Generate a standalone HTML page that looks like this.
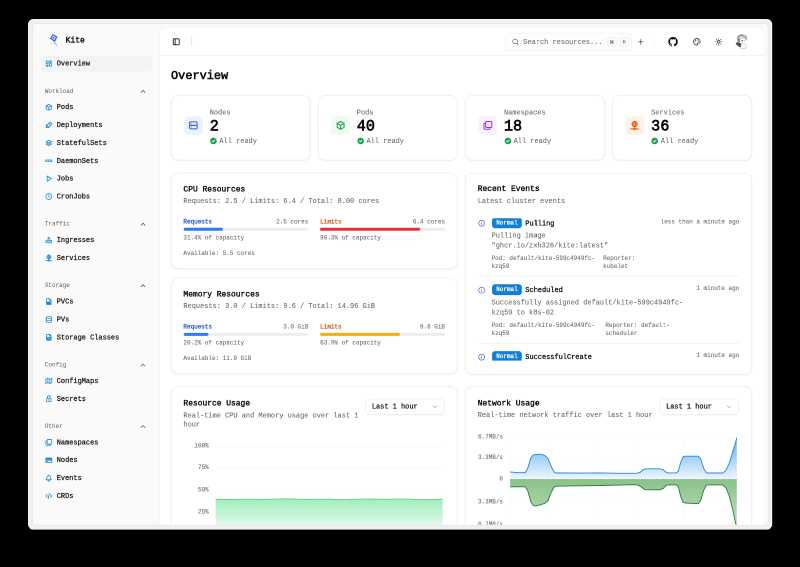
<!DOCTYPE html>
<html lang="en">
<head>
<meta charset="utf-8">
<title>Kite - Overview</title>
<style>
*{box-sizing:border-box;margin:0;padding:0}
html,body{width:800px;height:567px;overflow:hidden;background:#000}
body{font-family:"Liberation Mono",monospace;color:#0a0a0a;position:relative}
#stage{position:absolute;left:28px;top:19px;width:1490px;height:1024px;transform:scale(.5);transform-origin:0 0;will-change:transform}
#win{position:absolute;left:0;top:0;transform:scale(.9916);transform-origin:0 0;width:1500.6px;height:1029.800px;background:#f1f1f1;border-radius:11px;overflow:hidden}
#app{position:absolute;left:10px;top:9.5px;width:1481.5px;height:1010.300px;background:#fafafa;border-radius:5px;overflow:hidden;box-shadow:0 0 0 2px rgba(0,0,0,.045);font-size:14px;line-height:20px}
svg{display:block}
.ic{fill:none;stroke:currentColor;stroke-width:2;stroke-linecap:round;stroke-linejoin:round}
.med{-webkit-text-stroke:.5px currentColor}
.mut{color:#6a6a6a;-webkit-text-stroke:.15px currentColor}

/* sidebar */
#side{position:absolute;left:0;top:0;width:256px;height:100%;padding:8px}
.sh{padding:8px}
.brand{height:32px;display:flex;align-items:center;padding:6px;gap:8px}
.brand b{font-size:16px;font-weight:400;-webkit-text-stroke:.8px currentColor;letter-spacing:0;margin-left:5.500px;position:relative;top:1px}
.grp{padding:8px;margin-bottom:8px}
.glabel{height:32px;display:flex;align-items:center;justify-content:space-between;padding:0 8px;font-size:12px;color:#5e5e5e}
.glabel svg{width:16px;height:16px;color:#404040;margin-right:2px}
.mi{height:32px;display:flex;align-items:center;gap:8px;padding:0 8px;border-radius:6px;margin-bottom:4px;color:#171717}
.mi:last-child{margin-bottom:0}
.mi svg{width:16px;height:16px;color:#1a86cf;flex:none;stroke-width:2.300}
.mi.act{background:#f3f3f3}
.mi span,.glabel span{position:relative;top:.700px}

/* main */
#main{position:absolute;left:256px;top:8px;width:1217.5px;height:1100px;background:#fff;border-radius:10px;box-shadow:0 0 2px rgba(0,0,0,.06)}
#hdr{position:absolute;left:0;top:0;width:100%;height:56px;border-bottom:1px solid #e7e7e7}
#hdr .abs{position:absolute}
.card{position:absolute;background:#fff;border:1px solid #e8e8e8;border-radius:14px;box-shadow:0 1px 3px rgba(0,0,0,.06)}
.t16{font-size:16px;line-height:16px;font-weight:400;-webkit-text-stroke:.7px currentColor}
.xs{font-size:12px;line-height:16px}
.abs{position:absolute}
</style>
</head>
<body>
<div id="stage"><div id="win"><div id="app">

<!-- SIDEBAR -->
<div id="side">
  <div class="sh">
    <div class="brand">
      <svg width="22" height="26" viewBox="0 0 22 26" style="margin-left:8.500px"><g transform="rotate(-12 11 10)"><path d="M11 1 L19 8.500 L11.500 18 L3 9 Z" fill="#3f63dd"/><path d="M11 4.200 L15.500 8.700 L11.300 13.800 L6.500 9 Z" fill="#e6edff"/><circle cx="11" cy="9" r="2" fill="#3f63dd"/></g><path d="M13 17.500 C11.500 20 15 21 17.500 24.500" stroke="#6c86e6" stroke-width="1.300" fill="none"/><path d="M11 19 L6 21.500" stroke="#9fb0ef" stroke-width="1" fill="none"/></svg>
      <b>Kite</b>
    </div>
  </div>
  <div class="grp" id="g0">
    <div class="mi act"><svg class="ic" viewBox="0 0 24 24"><path d="M5 4h4a1 1 0 0 1 1 1v6a1 1 0 0 1 -1 1h-4a1 1 0 0 1 -1 -1v-6a1 1 0 0 1 1 -1"/><path d="M5 16h4a1 1 0 0 1 1 1v2a1 1 0 0 1 -1 1h-4a1 1 0 0 1 -1 -1v-2a1 1 0 0 1 1 -1"/><path d="M15 12h4a1 1 0 0 1 1 1v6a1 1 0 0 1 -1 1h-4a1 1 0 0 1 -1 -1v-6a1 1 0 0 1 1 -1"/><path d="M15 4h4a1 1 0 0 1 1 1v2a1 1 0 0 1 -1 1h-4a1 1 0 0 1 -1 -1v-2a1 1 0 0 1 1 -1"/></svg><span class="med">Overview</span></div>
  </div>
  <div class="grp">
    <div class="glabel"><span>Workload</span><svg class="ic" viewBox="0 0 24 24"><path d="M6 15l6 -6l6 6"/></svg></div>
    <div class="mi"><svg class="ic" viewBox="0 0 24 24"><path d="M12 3l8 4.5l0 9l-8 4.5l-8 -4.5l0 -9l8 -4.5"/><path d="M12 12l8 -4.5"/><path d="M12 12l0 9"/><path d="M12 12l-8 -4.5"/></svg><span class="med">Pods</span></div>
    <div class="mi"><svg class="ic" viewBox="0 0 24 24"><path d="M4 13a8 8 0 0 1 7 7a6 6 0 0 0 3 -5a9 9 0 0 0 6 -8a3 3 0 0 0 -3 -3a9 9 0 0 0 -8 6a6 6 0 0 0 -5 3"/><path d="M7 14a6 6 0 0 0 -3 6a6 6 0 0 0 6 -3"/><path d="M15 9m-1 0a1 1 0 1 0 2 0a1 1 0 1 0 -2 0"/></svg><span class="med">Deployments</span></div>
    <div class="mi"><svg class="ic" viewBox="0 0 24 24"><path d="M12 4l-8 4l8 4l8 -4l-8 -4"/><path d="M4 12l8 4l8 -4"/><path d="M4 16l8 4l8 -4"/></svg><span class="med">StatefulSets</span></div>
    <div class="mi"><svg class="ic" viewBox="0 0 24 24"><path d="M2.500 9.200h19v5.600h-19z" fill="currentColor" fill-opacity=".55" stroke-width="1.600"/><path d="M8.800 9.500v5M15.200 9.500v5" stroke="#fafafa" stroke-width="1.300"/></svg><span class="med">DaemonSets</span></div>
    <div class="mi"><svg class="ic" viewBox="0 0 24 24"><path d="M7 4v16l13 -8z"/></svg><span class="med">Jobs</span></div>
    <div class="mi"><svg class="ic" viewBox="0 0 24 24"><path d="M3 12a9 9 0 1 0 18 0a9 9 0 0 0 -18 0"/><path d="M12 12l3 2"/><path d="M12 7v5"/></svg><span class="med">CronJobs</span></div>
  </div>
  <div class="grp">
    <div class="glabel"><span>Traffic</span><svg class="ic" viewBox="0 0 24 24"><path d="M6 15l6 -6l6 6"/></svg></div>
    <div class="mi"><svg class="ic" viewBox="0 0 24 24"><path d="M3.500 13.500h17v6.500h-17z"/><path d="M7 16.800h10" stroke-width="1.400"/><path d="M12 10.500v-7" stroke-width="1.800"/><path d="M9 6l3 -3l3 3" stroke-width="1.800"/><path d="M6.500 8.500h11" stroke-width="1.600"/></svg><span class="med">Ingresses</span></div>
    <div class="mi"><svg class="ic" viewBox="0 0 24 24"><path d="M6 9a6 6 0 1 0 12 0a6 6 0 0 0 -12 0"/><path d="M12 3c1.333 .333 2 2.333 2 6s-.667 5.667 -2 6"/><path d="M12 3c-1.333 .333 -2 2.333 -2 6s.667 5.667 2 6"/><path d="M6 9h12"/><path d="M3 20h7"/><path d="M14 20h7"/><path d="M10 20a2 2 0 1 0 4 0a2 2 0 0 0 -4 0"/><path d="M12 15v3"/></svg><span class="med">Services</span></div>
  </div>
  <div class="grp">
    <div class="glabel"><span>Storage</span><svg class="ic" viewBox="0 0 24 24"><path d="M6 15l6 -6l6 6"/></svg></div>
    <div class="mi"><svg class="ic" viewBox="0 0 24 24"><path d="M14 3v4a1 1 0 0 0 1 1h4"/><path d="M17 21h-10a2 2 0 0 1 -2 -2v-14a2 2 0 0 1 2 -2h7l5 5v11a2 2 0 0 1 -2 2z"/><path d="M6.500 12.500h11v7h-11z" fill="currentColor" stroke-width="1"/></svg><span class="med">PVCs</span></div>
    <div class="mi"><svg class="ic" viewBox="0 0 24 24"><path d="M12 6m-8 0a8 3 0 1 0 16 0a8 3 0 1 0 -16 0"/><path d="M4 6v6a8 3 0 0 0 16 0v-6"/><path d="M4 12v6a8 3 0 0 0 16 0v-6"/></svg><span class="med">PVs</span></div>
    <div class="mi"><svg class="ic" viewBox="0 0 24 24"><path d="M14 3v4a1 1 0 0 0 1 1h4"/><path d="M17 21h-10a2 2 0 0 1 -2 -2v-14a2 2 0 0 1 2 -2h7l5 5v11a2 2 0 0 1 -2 2z"/><path d="M6.500 11.500h11v8h-11z" fill="currentColor" stroke-width="1"/><path d="M9.500 15.500h5" stroke="#fafafa" stroke-width="1.600"/></svg><span class="med">Storage Classes</span></div>
  </div>
  <div class="grp">
    <div class="glabel"><span>Config</span><svg class="ic" viewBox="0 0 24 24"><path d="M6 15l6 -6l6 6"/></svg></div>
    <div class="mi"><svg class="ic" viewBox="0 0 24 24"><path d="M3 7l6 -3l6 3l6 -3v13l-6 3l-6 -3l-6 3v-13"/><path d="M9 4v13"/><path d="M15 7v13"/></svg><span class="med">ConfigMaps</span></div>
    <div class="mi"><svg class="ic" viewBox="0 0 24 24"><path d="M5 13a2 2 0 0 1 2 -2h10a2 2 0 0 1 2 2v6a2 2 0 0 1 -2 2h-10a2 2 0 0 1 -2 -2v-6z"/><path d="M11 16a1 1 0 1 0 2 0a1 1 0 0 0 -2 0"/><path d="M8 11v-4a4 4 0 1 1 8 0v4"/></svg><span class="med">Secrets</span></div>
  </div>
  <div class="grp">
    <div class="glabel"><span>Other</span><svg class="ic" viewBox="0 0 24 24"><path d="M6 15l6 -6l6 6"/></svg></div>
    <div class="mi"><svg class="ic" viewBox="0 0 24 24"><path d="M7 3m0 2a2 2 0 0 1 2 -2h10a2 2 0 0 1 2 2v10a2 2 0 0 1 -2 2h-10a2 2 0 0 1 -2 -2z"/><path d="M17 17v2a2 2 0 0 1 -2 2h-10a2 2 0 0 1 -2 -2v-10a2 2 0 0 1 2 -2h2"/></svg><span class="med">Namespaces</span></div>
    <div class="mi"><svg class="ic" viewBox="0 0 24 24"><path d="M3 5h18v14h-18z"/><path d="M3 12h18"/><path d="M4 8.500h16" stroke-width="5" stroke-linecap="butt"/><path d="M7 16h2"/></svg><span class="med">Nodes</span></div>
    <div class="mi"><svg class="ic" viewBox="0 0 24 24"><path d="M10 5a2 2 0 1 1 4 0a7 7 0 0 1 4 6v3a4 4 0 0 0 2 3h-16a4 4 0 0 0 2 -3v-3a7 7 0 0 1 4 -6"/><path d="M9 17v1a3 3 0 0 0 6 0v-1"/></svg><span class="med">Events</span></div>
    <div class="mi"><svg class="ic" viewBox="0 0 24 24"><path d="M7 8l-4 4l4 4"/><path d="M17 8l4 4l-4 4"/><path d="M14 4l-4 16"/></svg><span class="med">CRDs</span></div>
  </div>
</div>

<!-- MAIN -->
<div id="main">
  <div id="hdr">
    <svg class="ic abs" style="left:24px;top:19px;width:18px;height:18px;color:#171717;stroke-width:2.300" viewBox="0 0 24 24"><path d="M4 4m0 2a2 2 0 0 1 2 -2h12a2 2 0 0 1 2 2v12a2 2 0 0 1 -2 2h-12a2 2 0 0 1 -2 -2z"/><path d="M9 4l0 16"/></svg>
    <div class="abs" style="left:63px;top:18.500px;width:1.500px;height:19px;background:#e4e4e4"></div>
    <div class="abs" style="left:696px;top:10px;width:256px;height:36px;border:1px solid #e9e9e9;border-radius:8px;background:#fdfdfd"></div>
    <svg class="ic abs" style="left:709px;top:20px;width:16px;height:16px;color:#555" viewBox="0 0 24 24"><circle cx="11" cy="11" r="7"/><path d="M21 21l-4.8 -4.8"/></svg>
    <div class="abs mut" style="left:733px;top:18px;font-size:14px;line-height:20px;color:#6b6b6b">Search resources...</div>
    <div class="abs" style="left:902px;top:19px;width:19px;height:18px;border:1px solid #e5e5e5;border-radius:4px;background:#fafafa"></div>
    <svg class="ic abs" style="left:906px;top:23px;width:11px;height:11px;color:#666;stroke-width:2.4" viewBox="0 0 24 24"><path d="M7 9a2 2 0 1 1 2 -2v10a2 2 0 1 1 -2 -2h10a2 2 0 1 1 -2 2v-10a2 2 0 1 1 2 2h-10"/></svg>
    <div class="abs" style="left:928px;top:19px;width:18px;height:18px;border:1px solid #e5e5e5;border-radius:4px;background:#fafafa;font-size:11px;line-height:17px;text-align:center;color:#555">K</div>
    <svg class="ic abs" style="left:962px;top:20px;width:16px;height:16px;color:#333" viewBox="0 0 24 24"><path d="M12 5v14"/><path d="M5 12h14"/></svg>
    <div class="abs" style="left:997px;top:20px;width:1px;height:16px;background:#ececec"></div>
    <svg class="abs" style="left:1024.500px;top:18px;width:20px;height:20px" viewBox="0 0 24 24"><path fill="#0a0a0a" d="M12 .5C5.65 .5 .5 5.65 .5 12c0 5.080 3.290 9.390 7.860 10.910 .570 .100 .790 -.250 .790 -.550 0 -.270 -.010 -1.170 -.020 -2.120 -3.200 .700 -3.870 -1.360 -3.870 -1.360 -.520 -1.330 -1.280 -1.680 -1.280 -1.680 -1.040 -.710 .080 -.700 .080 -.700 1.150 .080 1.760 1.180 1.760 1.180 1.030 1.760 2.690 1.250 3.350 .960 .100 -.740 .400 -1.250 .730 -1.540 -2.550 -.290 -5.240 -1.280 -5.240 -5.680 0 -1.260 .450 -2.280 1.180 -3.090 -.120 -.290 -.510 -1.460 .110 -3.040 0 0 .960 -.310 3.160 1.180 .920 -.260 1.900 -.380 2.880 -.390 .980 .010 1.960 .130 2.880 .390 2.190 -1.490 3.160 -1.180 3.160 -1.180 .620 1.580 .230 2.750 .110 3.040 .740 .810 1.180 1.830 1.180 3.090 0 4.420 -2.690 5.390 -5.250 5.670 .410 .360 .780 1.060 .780 2.130 0 1.540 -.010 2.780 -.010 3.160 0 .310 .210 .670 .800 .550C20.210 21.390 23.500 17.080 23.500 12 23.500 5.650 18.350 .5 12 .5z"/></svg>
    <svg class="ic abs" style="left:1075px;top:20px;width:16px;height:16px;color:#222" viewBox="0 0 24 24"><path d="M12 22a1 1 0 0 1 0 -20a10 9 0 0 1 10 9a5 5 0 0 1 -5 5h-2.250a1.750 1.750 0 0 0 -1.400 2.800l.300 .400a1.750 1.750 0 0 1 -1.400 2.800z"/><circle cx="13.500" cy="6.500" r=".6" fill="currentColor"/><circle cx="17.500" cy="10.500" r=".6" fill="currentColor"/><circle cx="6.500" cy="12.500" r=".6" fill="currentColor"/><circle cx="8.500" cy="7.500" r=".6" fill="currentColor"/></svg>
    <svg class="ic abs" style="left:1119px;top:20px;width:16px;height:16px;color:#222" viewBox="0 0 24 24"><circle cx="12" cy="12" r="4"/><path d="M12 2v2"/><path d="M12 20v2"/><path d="M4.930 4.930l1.410 1.410"/><path d="M17.660 17.660l1.410 1.410"/><path d="M2 12h2"/><path d="M20 12h2"/><path d="M6.340 17.660l-1.410 1.410"/><path d="M19.070 4.930l-1.410 1.410"/></svg>
    <svg class="abs" style="left:1157px;top:11px;width:32px;height:32px" viewBox="0 0 32 32"><path d="M7 12c-2-5 2-10 8-10.500c6-.5 12 2 12.500 7c.3 3-1 5-3 6l-3-6l-7-1l-4 6z" fill="#c4c4c4"/><path d="M8 11c1-5 5-8 10-8M11 6c3-2 8-2 12 0M24 5c2 2 3 5 2 8" stroke="#8a8a8a" stroke-width="1.200" fill="none"/><path d="M8 10.500c-1 3 0 6 2.500 7.500l3-1l1-6z" fill="#7d7d7d"/><ellipse cx="18.500" cy="14.500" rx="5.800" ry="5.500" fill="#fbfbfb"/><path d="M13 12c2-3 8-4 11-1" stroke="#9a9a9a" stroke-width="1" fill="none"/><ellipse cx="17.600" cy="14.800" rx="1.300" ry="1.600" fill="#3c3c3c"/><path d="M21.500 13.500l1.800.8" stroke="#777" stroke-width=".9"/><ellipse cx="19.500" cy="26" rx="6.300" ry="5.300" fill="#fafafa" stroke="#bdbdbd" stroke-width="1.100"/><path d="M4.500 19l5-1.500l6.500 3.500l-1.500 7l-4-1.500l-5.500-4.500z" fill="#6a5856"/><path d="M7 19.500v5M9.500 19v7M12 20v7.500" stroke="#3f3433" stroke-width="1"/></svg>
  </div>
  <div class="abs" style="left:22.5px;top:81px;font-size:24px;line-height:32px;font-weight:400;-webkit-text-stroke:1.100px currentColor">Overview</div>
  <div class="card" style="left:22.5px;top:136px;width:280.8px;height:131.500px">
  <div class="abs" style="left:25px;top:41px;width:38px;height:38px;border-radius:9px;background:#ecf3fe"><svg class="ic" style="width:21px;height:21px;margin:8.500px;color:#3461d8;stroke-width:2.300" viewBox="0 0 24 24"><path d="M3 4m0 3a3 3 0 0 1 3 -3h12a3 3 0 0 1 3 3v2a3 3 0 0 1 -3 3h-12a3 3 0 0 1 -3 -3z"/><path d="M3 12m0 3a3 3 0 0 1 3 -3h12a3 3 0 0 1 3 3v2a3 3 0 0 1 -3 3h-12a3 3 0 0 1 -3 -3z"/><path d="M7 8l0 .01"/><path d="M7 16l0 .01"/></svg></div>
  <div class="abs mut" style="left:77px;top:24px">Nodes</div>
  <div class="abs" style="left:77px;top:44px;font-size:30.500px;line-height:36px;font-weight:400;-webkit-text-stroke:1.300px currentColor;transform:scaleY(1.060);transform-origin:0 60%">2</div>
  <svg class="abs" style="left:76.500px;top:83.500px;width:16px;height:16px" viewBox="0 0 24 24"><circle cx="12" cy="12" r="10" fill="#16a34a"/><path d="M8.200 12.300l2.600 2.600l5 -5.200" fill="none" stroke="#fff" stroke-width="2.400" stroke-linecap="round" stroke-linejoin="round"/></svg>
  <div class="abs mut" style="left:96.500px;top:81px">All ready</div>
  </div>
  <div class="card" style="left:319.2px;top:136px;width:280.8px;height:131.500px">
  <div class="abs" style="left:25px;top:41px;width:38px;height:38px;border-radius:9px;background:#eefaf2"><svg class="ic" style="width:21px;height:21px;margin:8.500px;color:#17a34a;stroke-width:2.300" viewBox="0 0 24 24"><path d="M12 3l8 4.500l0 9l-8 4.500l-8 -4.500l0 -9l8 -4.500"/><path d="M12 12l8 -4.500"/><path d="M12 12l0 9"/><path d="M12 12l-8 -4.500"/></svg></div>
  <div class="abs mut" style="left:77px;top:24px">Pods</div>
  <div class="abs" style="left:77px;top:44px;font-size:30.500px;line-height:36px;font-weight:400;-webkit-text-stroke:1.300px currentColor;transform:scaleY(1.060);transform-origin:0 60%">40</div>
  <svg class="abs" style="left:76.500px;top:83.500px;width:16px;height:16px" viewBox="0 0 24 24"><circle cx="12" cy="12" r="10" fill="#16a34a"/><path d="M8.200 12.300l2.600 2.600l5 -5.200" fill="none" stroke="#fff" stroke-width="2.400" stroke-linecap="round" stroke-linejoin="round"/></svg>
  <div class="abs mut" style="left:96.500px;top:81px">All ready</div>
  </div>
  <div class="card" style="left:616.0px;top:136px;width:280.8px;height:131.500px">
  <div class="abs" style="left:25px;top:41px;width:38px;height:38px;border-radius:9px;background:#f8f2fe"><svg class="ic" style="width:21px;height:21px;margin:8.500px;color:#9a2fe0;stroke-width:2.300" viewBox="0 0 24 24"><path d="M7 3m0 2a2 2 0 0 1 2 -2h10a2 2 0 0 1 2 2v10a2 2 0 0 1 -2 2h-10a2 2 0 0 1 -2 -2z"/><path d="M17 17v2a2 2 0 0 1 -2 2h-10a2 2 0 0 1 -2 -2v-10a2 2 0 0 1 2 -2h2"/></svg></div>
  <div class="abs mut" style="left:77px;top:24px">Namespaces</div>
  <div class="abs" style="left:77px;top:44px;font-size:30.500px;line-height:36px;font-weight:400;-webkit-text-stroke:1.300px currentColor;transform:scaleY(1.060);transform-origin:0 60%">18</div>
  <svg class="abs" style="left:76.500px;top:83.500px;width:16px;height:16px" viewBox="0 0 24 24"><circle cx="12" cy="12" r="10" fill="#16a34a"/><path d="M8.200 12.300l2.600 2.600l5 -5.200" fill="none" stroke="#fff" stroke-width="2.400" stroke-linecap="round" stroke-linejoin="round"/></svg>
  <div class="abs mut" style="left:96.500px;top:81px">All ready</div>
  </div>
  <div class="card" style="left:912.8px;top:136px;width:280.8px;height:131.500px">
  <div class="abs" style="left:25px;top:41px;width:38px;height:38px;border-radius:9px;background:#fdf2e9"><svg class="ic" style="width:21px;height:21px;margin:8.500px;color:#ea5a0c;stroke-width:2.300" viewBox="0 0 24 24"><path d="M6 9a6 6 0 1 0 12 0a6 6 0 0 0 -12 0"/><path d="M12 3c1.333 .333 2 2.333 2 6s-.667 5.667 -2 6"/><path d="M12 3c-1.333 .333 -2 2.333 -2 6s.667 5.667 2 6"/><path d="M6 9h12"/><path d="M3 20h7"/><path d="M14 20h7"/><path d="M10 20a2 2 0 1 0 4 0a2 2 0 0 0 -4 0"/><path d="M12 15v3"/></svg></div>
  <div class="abs mut" style="left:77px;top:24px">Services</div>
  <div class="abs" style="left:77px;top:44px;font-size:30.500px;line-height:36px;font-weight:400;-webkit-text-stroke:1.300px currentColor;transform:scaleY(1.060);transform-origin:0 60%">36</div>
  <svg class="abs" style="left:76.500px;top:83.500px;width:16px;height:16px" viewBox="0 0 24 24"><circle cx="12" cy="12" r="10" fill="#16a34a"/><path d="M8.200 12.300l2.600 2.600l5 -5.200" fill="none" stroke="#fff" stroke-width="2.400" stroke-linecap="round" stroke-linejoin="round"/></svg>
  <div class="abs mut" style="left:96.500px;top:81px">All ready</div>
  </div>
  <div class="card" style="left:22.5px;top:292.5px;width:577.5px;height:194px">
  <div class="abs t16" style="left:24px;top:24.500px">CPU Resources</div>
  <div class="abs mut" style="left:24px;top:46px;white-space:nowrap">Requests: 2.5 / Limits: 6.4 / Total: 8.00 cores</div>
  <div class="abs xs med" style="left:24.0px;top:89.500px;color:#1b55cf">Requests</div>
  <div class="abs xs mut" style="left:24.0px;top:89.500px;width:251.8px;text-align:right">2.5 cores</div>
  <div class="abs" style="left:24.0px;top:109.500px;width:251.8px;height:6px;border-radius:3px;background:#ededed"><div style="width:31.4%;height:6px;border-radius:3px;background:#2f7cf6"></div></div>
  <div class="abs xs mut" style="left:24.0px;top:123px">31.4% of capacity</div>
  <div class="abs xs med" style="left:299.8px;top:89.500px;color:#d8560e">Limits</div>
  <div class="abs xs mut" style="left:299.8px;top:89.500px;width:251.8px;text-align:right">6.4 cores</div>
  <div class="abs" style="left:299.8px;top:109.500px;width:251.8px;height:6px;border-radius:3px;background:#ededed"><div style="width:80.3%;height:6px;border-radius:3px;background:#ef2d3a"></div></div>
  <div class="abs xs mut" style="left:299.8px;top:123px">80.3% of capacity</div>
  <div class="abs xs mut" style="left:24px;top:154px">Available: 5.5 cores</div>
  </div>
  <div class="card" style="left:22.5px;top:504.5px;width:577.5px;height:194px">
  <div class="abs t16" style="left:24px;top:24.500px">Memory Resources</div>
  <div class="abs mut" style="left:24px;top:46px;white-space:nowrap">Requests: 3.0 / Limits: 9.6 / Total: 14.96 GiB</div>
  <div class="abs xs med" style="left:24.0px;top:89.500px;color:#1b55cf">Requests</div>
  <div class="abs xs mut" style="left:24.0px;top:89.500px;width:251.8px;text-align:right">3.0 GiB</div>
  <div class="abs" style="left:24.0px;top:109.500px;width:251.8px;height:6px;border-radius:3px;background:#ededed"><div style="width:20.2%;height:6px;border-radius:3px;background:#2f7cf6"></div></div>
  <div class="abs xs mut" style="left:24.0px;top:123px">20.2% of capacity</div>
  <div class="abs xs med" style="left:299.8px;top:89.500px;color:#d8560e">Limits</div>
  <div class="abs xs mut" style="left:299.8px;top:89.500px;width:251.8px;text-align:right">9.6 GiB</div>
  <div class="abs" style="left:299.8px;top:109.500px;width:251.8px;height:6px;border-radius:3px;background:#ededed"><div style="width:63.9%;height:6px;border-radius:3px;background:#efb10a"></div></div>
  <div class="abs xs mut" style="left:299.8px;top:123px">63.9% of capacity</div>
  <div class="abs xs mut" style="left:24px;top:154px">Available: 11.9 GiB</div>
  </div>
  <div class="card" style="left:616.0px;top:293px;width:577.5px;height:406.500px">
  <div class="abs t16" style="left:24px;top:23.500px">Recent Events</div>
  <div class="abs mut" style="left:24px;top:45.500px">Latest cluster events</div>
  <div class="abs" style="left:24px;top:90.500px;width:527.5px;height:287px;overflow:hidden">
  <svg class="ic abs" style="left:0;top:2.2px;width:16px;height:16px;color:#3a62d8" viewBox="0 0 24 24"><circle cx="12" cy="12" r="9"/><path d="M12 8.500l0 .01"/><path d="M11.500 12h.5v4h.5"/></svg>
  <div class="abs xs med" style="left:29px;top:-2.3px;width:60px;height:22px;border-radius:6px;background:#0f7fd8;color:#fff;line-height:22px;text-align:center">Normal</div>
  <div class="abs med" style="left:96px;top:0px;white-space:nowrap">Pulling</div>
  <div class="abs xs mut" style="right:0;top:-1px;white-space:nowrap">less than a minute ago</div>
  <div class="abs mut" style="left:28px;top:26.3px;line-height:19.300px;white-space:nowrap">Pulling image<br>"ghcr.io/zxh326/kite:latest"</div>
  <div class="abs xs mut" style="left:28px;top:72.5px;white-space:nowrap">Pod: default/kite-599c4949fc-<br>kzq59</div>
  <div class="abs xs mut" style="left:253px;top:72.5px;white-space:nowrap">Reporter:<br>kubelet</div>
  <div class="abs" style="left:0;top:116px;width:100%;height:1px;background:#e8e8e8"></div>
  <svg class="ic abs" style="left:0;top:137.2px;width:16px;height:16px;color:#3a62d8" viewBox="0 0 24 24"><circle cx="12" cy="12" r="9"/><path d="M12 8.500l0 .01"/><path d="M11.500 12h.5v4h.5"/></svg>
  <div class="abs xs med" style="left:29px;top:132.7px;width:60px;height:22px;border-radius:6px;background:#0f7fd8;color:#fff;line-height:22px;text-align:center">Normal</div>
  <div class="abs med" style="left:96px;top:135px;white-space:nowrap">Scheduled</div>
  <div class="abs xs mut" style="right:0;top:134px;white-space:nowrap">1 minute ago</div>
  <div class="abs mut" style="left:28px;top:161.3px;line-height:19.300px;white-space:nowrap">Successfully assigned default/kite-599c4949fc-<br>kzq59 to k8s-02</div>
  <div class="abs xs mut" style="left:28px;top:207.5px;white-space:nowrap">Pod: default/kite-599c4949fc-<br>kzq59</div>
  <div class="abs xs mut" style="left:257.5px;top:207.5px;white-space:nowrap">Reporter: default-<br>scheduler</div>
  <div class="abs" style="left:0;top:252px;width:100%;height:1px;background:#e8e8e8"></div>
  <svg class="ic abs" style="left:0;top:272.2px;width:16px;height:16px;color:#3a62d8" viewBox="0 0 24 24"><circle cx="12" cy="12" r="9"/><path d="M12 8.500l0 .01"/><path d="M11.500 12h.5v4h.5"/></svg>
  <div class="abs xs med" style="left:29px;top:267.7px;width:60px;height:22px;border-radius:6px;background:#0f7fd8;color:#fff;line-height:22px;text-align:center">Normal</div>
  <div class="abs med" style="left:96px;top:270px;white-space:nowrap">SuccessfulCreate</div>
  <div class="abs xs mut" style="right:0;top:269px;white-space:nowrap">1 minute ago</div>
  <div class="abs mut" style="left:28px;top:296.3px;line-height:19.300px;white-space:nowrap">Created pod: kite-599c4949fc-kzq59</div>
  <div class="abs xs mut" style="left:28px;top:342.5px;white-space:nowrap">ReplicaSet: default/kite-599c4949fc</div>
  <div class="abs xs mut" style="left:257.5px;top:342.5px;white-space:nowrap">Reporter: replicaset-<br>controller</div>
  <div class="abs" style="left:0;top:387px;width:100%;height:1px;background:#e8e8e8"></div>
  </div></div>
  <div class="card" style="left:22.5px;top:723px;width:577.5px;height:420px">
  <div class="abs t16" style="left:24px;top:26px">Resource Usage</div>
  <div class="abs mut" style="left:24px;top:49px;line-height:18px;width:362px">Real-time CPU and Memory usage over last 1 hour</div>
  <div class="abs" style="left:391px;top:24px;width:160px;height:32px;border:1px solid #e6e6e6;border-radius:8px;box-shadow:0 1px 2px rgba(0,0,0,.04)"><div class="abs med" style="left:12px;top:5px;white-space:nowrap;color:#171717">Last 1 hour</div><svg class="ic abs" style="right:11px;top:7px;width:16px;height:16px;color:#b4b4b4" viewBox="0 0 24 24"><path d="M6 9l6 6l6 -6"/></svg></div>
  <svg class="abs" style="left:0;top:0" width="577.5" height="420" viewBox="0 0 577.5 420"><defs><linearGradient id="gg" x1="0" y1="0" x2="0" y2="1"><stop offset="0" stop-color="#4ade80" stop-opacity=".52"/><stop offset="1" stop-color="#4ade80" stop-opacity=".06"/></linearGradient></defs><path d="M88.500 119.6H546" stroke="#f4f4f4" stroke-width="1"/><path d="M88.500 163.8H546" stroke="#f4f4f4" stroke-width="1"/><path d="M88.500 208.0H546" stroke="#f4f4f4" stroke-width="1"/><path d="M88.500 252.2H546" stroke="#f4f4f4" stroke-width="1"/><path d="M88.500 296.4H546" stroke="#f4f4f4" stroke-width="1"/><path d="M88.5 226.50 L99.9 226.88 L111.4 227.04 L122.8 226.92 L134.2 226.64 L145.7 226.45 L157.1 226.47 L168.6 226.66 L180.0 226.83 L191.4 226.78 L202.9 226.49 L214.3 226.10 L225.8 225.87 L237.2 225.93 L248.6 226.24 L260.1 226.58 L271.5 226.73 L282.9 226.64 L294.4 226.45 L305.8 226.36 L317.2 226.51 L328.7 226.82 L340.1 227.07 L351.6 227.07 L363.0 226.79 L374.4 226.38 L385.9 226.10 L397.3 226.08 L408.8 226.28 L420.2 226.50 L431.6 226.54 L443.1 226.36 L454.5 226.13 L465.9 226.05 L477.4 226.25 L488.8 226.64 L500.2 227.00 L511.7 227.10 L523.1 226.92 L534.6 226.61 L546.0 226.39 L546 296.4 L88.500 296.4Z" fill="url(#gg)"/><path d="M88.5 226.50 L99.9 226.88 L111.4 227.04 L122.8 226.92 L134.2 226.64 L145.7 226.45 L157.1 226.47 L168.6 226.66 L180.0 226.83 L191.4 226.78 L202.9 226.49 L214.3 226.10 L225.8 225.87 L237.2 225.93 L248.6 226.24 L260.1 226.58 L271.5 226.73 L282.9 226.64 L294.4 226.45 L305.8 226.36 L317.2 226.51 L328.7 226.82 L340.1 227.07 L351.6 227.07 L363.0 226.79 L374.4 226.38 L385.9 226.10 L397.3 226.08 L408.8 226.28 L420.2 226.50 L431.6 226.54 L443.1 226.36 L454.5 226.13 L465.9 226.05 L477.4 226.25 L488.8 226.64 L500.2 227.00 L511.7 227.10 L523.1 226.92 L534.6 226.61 L546.0 226.39" fill="none" stroke="#4fd07f" stroke-width="1.600"/></svg>
  <div class="abs xs mut" style="left:0;width:75px;text-align:right;top:111.6px">100%</div>
  <div class="abs xs mut" style="left:0;width:75px;text-align:right;top:155.8px">75%</div>
  <div class="abs xs mut" style="left:0;width:75px;text-align:right;top:200.0px">50%</div>
  <div class="abs xs mut" style="left:0;width:75px;text-align:right;top:244.2px">25%</div>
  <div class="abs xs mut" style="left:0;width:75px;text-align:right;top:288.4px">0%</div>
  </div>
  <div class="card" style="left:616.0px;top:723px;width:577.5px;height:420px">
  <div class="abs t16" style="left:24px;top:26px">Network Usage</div>
  <div class="abs mut" style="left:24px;top:47px;white-space:nowrap">Real-time network traffic over last 1 hour</div>
  <div class="abs" style="left:391px;top:24px;width:160px;height:32px;border:1px solid #e6e6e6;border-radius:8px;box-shadow:0 1px 2px rgba(0,0,0,.04)"><div class="abs med" style="left:12px;top:5px;white-space:nowrap;color:#171717">Last 1 hour</div><svg class="ic abs" style="right:11px;top:7px;width:16px;height:16px;color:#b4b4b4" viewBox="0 0 24 24"><path d="M6 9l6 6l6 -6"/></svg></div>
  <svg class="abs" style="left:0;top:0" width="577.5" height="420" viewBox="0 0 577.5 420"><defs><linearGradient id="gb" gradientUnits="userSpaceOnUse" x1="0" y1="101.9" x2="0" y2="186.6"><stop offset="0" stop-color="#3ea0ee" stop-opacity=".85"/><stop offset="1" stop-color="#3ea0ee" stop-opacity=".08"/></linearGradient><linearGradient id="gn" gradientUnits="userSpaceOnUse" x1="0" y1="186.6" x2="0" y2="285.4"><stop offset="0" stop-color="#3f9a3c" stop-opacity=".6"/><stop offset="1" stop-color="#3f9a3c" stop-opacity=".3"/></linearGradient></defs><path d="M89.6 101.3H546.6" stroke="#f8f8f8" stroke-width="1"/><path d="M89.6 143.2H546.6" stroke="#f8f8f8" stroke-width="1"/><path d="M89.6 186.6H546.6" stroke="#f8f8f8" stroke-width="1"/><path d="M89.6 231.9H546.6" stroke="#f8f8f8" stroke-width="1"/><path d="M89.6 276.5H546.6" stroke="#f8f8f8" stroke-width="1"/><path d="M89.6 101.3V300" stroke="#f8f8f8" stroke-width="1"/><path d="M168.2 101.3V300" stroke="#f8f8f8" stroke-width="1"/><path d="M259.0 101.3V300" stroke="#f8f8f8" stroke-width="1"/><path d="M348.9 101.3V300" stroke="#f8f8f8" stroke-width="1"/><path d="M440.5 101.3V300" stroke="#f8f8f8" stroke-width="1"/><path d="M531.3 101.3V300" stroke="#f8f8f8" stroke-width="1"/><path d="M89.6 171.6 L105.7 173.1 L119.8 173.1 L124.8 164.4 L130.9 144.2 L135.9 137.4 L144.0 135.9 L152.1 135.9 L160.1 138.8 L166.2 145.2 L172.2 160.3 L178.3 172.0 L182.3 173.7 L230.7 173.9 L271.1 173.5 L311.4 174.3 L345.7 174.1 L351.8 172.4 L358.8 166.4 L363.9 165.2 L392.1 165.2 L398.1 167.4 L404.2 172.4 L408.2 173.5 L424.4 173.5 L428.4 170.4 L433.4 152.3 L438.5 140.6 L442.5 139.8 L468.7 139.8 L473.8 145.2 L479.8 164.4 L484.9 173.1 L488.9 173.7 L518.2 173.7 L524.2 169.0 L531.3 154.3 L538.3 131.1 L543.0 116.0 L546.6 102.7 L546.6 186.6 L89.6 186.6Z" fill="url(#gb)"/><path d="M89.6 201.9 L105.7 201.3 L119.8 201.5 L124.8 208.8 L130.9 230.9 L135.9 239.0 L140.0 240.4 L150.1 237.8 L160.1 234.6 L166.2 228.9 L172.2 212.8 L178.3 201.9 L182.3 200.3 L230.7 199.5 L271.1 198.9 L311.4 198.1 L335.6 197.3 L347.7 198.1 L353.8 201.7 L359.8 206.7 L365.9 207.7 L392.1 207.7 L398.1 204.7 L404.2 198.7 L408.2 197.7 L424.4 197.7 L428.4 200.7 L433.4 220.9 L438.5 233.0 L442.5 234.2 L468.7 235.6 L473.8 228.9 L479.8 208.8 L484.9 198.3 L488.9 197.7 L518.2 197.7 L524.2 202.7 L531.3 219.8 L538.3 247.1 L546.6 285.4 L546.6 186.6 L89.6 186.6Z" fill="url(#gn)"/><path d="M89.6 186.6H546.6" stroke="#5a5a5a" stroke-opacity=".75" stroke-width=".9" stroke-dasharray="3 3"/><path d="M89.6 171.6 L105.7 173.1 L119.8 173.1 L124.8 164.4 L130.9 144.2 L135.9 137.4 L144.0 135.9 L152.1 135.9 L160.1 138.8 L166.2 145.2 L172.2 160.3 L178.3 172.0 L182.3 173.7 L230.7 173.9 L271.1 173.5 L311.4 174.3 L345.7 174.1 L351.8 172.4 L358.8 166.4 L363.9 165.2 L392.1 165.2 L398.1 167.4 L404.2 172.4 L408.2 173.5 L424.4 173.5 L428.4 170.4 L433.4 152.3 L438.5 140.6 L442.5 139.8 L468.7 139.8 L473.8 145.2 L479.8 164.4 L484.9 173.1 L488.9 173.7 L518.2 173.7 L524.2 169.0 L531.3 154.3 L538.3 131.1 L543.0 116.0 L546.6 102.7" fill="none" stroke="#2485d6" stroke-width="1.800" stroke-linejoin="round"/><path d="M89.6 201.9 L105.7 201.3 L119.8 201.5 L124.8 208.8 L130.9 230.9 L135.9 239.0 L140.0 240.4 L150.1 237.8 L160.1 234.6 L166.2 228.9 L172.2 212.8 L178.3 201.9 L182.3 200.3 L230.7 199.5 L271.1 198.9 L311.4 198.1 L335.6 197.3 L347.7 198.1 L353.8 201.7 L359.8 206.7 L365.9 207.7 L392.1 207.7 L398.1 204.7 L404.2 198.7 L408.2 197.7 L424.4 197.7 L428.4 200.7 L433.4 220.9 L438.5 233.0 L442.5 234.2 L468.7 235.6 L473.8 228.9 L479.8 208.8 L484.9 198.3 L488.9 197.7 L518.2 197.7 L524.2 202.7 L531.3 219.8 L538.3 247.1 L546.6 285.4" fill="none" stroke="#1f8230" stroke-width="1.800" stroke-linejoin="round"/></svg>
  <div class="abs xs mut" style="left:0;width:75px;text-align:right;top:93.3px">6.7MB/s</div>
  <div class="abs xs mut" style="left:0;width:75px;text-align:right;top:134.8px">3.3MB/s</div>
  <div class="abs xs mut" style="left:0;width:75px;text-align:right;top:178.6px">0</div>
  <div class="abs xs mut" style="left:0;width:75px;text-align:right;top:224.2px">3.3MB/s</div>
  <div class="abs xs mut" style="left:0;width:75px;text-align:right;top:270.1px">6.7MB/s</div>
  </div>
</div>

</div></div></div>
</body>
</html>
